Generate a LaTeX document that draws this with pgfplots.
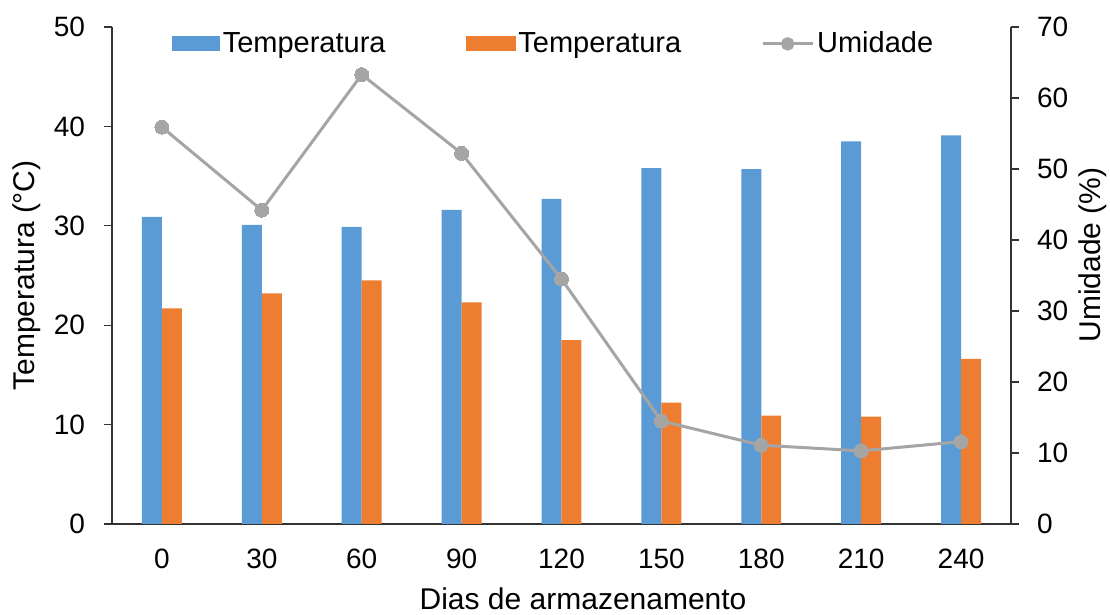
\documentclass[border=0pt]{standalone}
\usepackage{fontspec}
\setmainfont{Liberation Sans}
\usepackage{pgfplots}
\pgfplotsset{compat=1.18}
\definecolor{cblue}{HTML}{5B9BD5}
\definecolor{corange}{HTML}{ED7D31}
\definecolor{cgray}{HTML}{A5A5A5}
\begin{document}
\begin{tikzpicture}[font=\fontsize{14}{16.8}\selectfont]
\pgfplotsset{
  base/.style={
    width=449.5pt, height=248.5pt, scale only axis,
    at={(56pt,45.5pt)}, anchor=south west,
    xmin=-0.5, xmax=8.5,
    tick align=outside, major tick length=4pt,
    axis line style={-, black!80, line width=0.6pt},
    tick style={black!80, line width=0.6pt},
    /pgf/number format/assume math mode=true,
    label style={font=\fontsize{15}{18}\selectfont},
  }
}
\begin{axis}[base,
  ymin=0, ymax=50, ytick={0,10,...,50},
  axis y line*=left, axis x line*=bottom,
  xtick={0,...,8}, xticklabels={0,30,60,90,120,150,180,210,240},
  major x tick style={draw=none},
  xticklabel style={anchor=base, yshift=-18.5pt},
  yticklabel style={anchor=east, xshift=-6pt},
  xlabel={Dias de armazenamento},
  xlabel style={at={(axis description cs:0.524,0)}, anchor=base, yshift=-43pt},
  ylabel={Temperatura (°C)},
  ylabel style={at={(axis description cs:0,0.5)}, anchor=center, yshift=42.5pt},
]
\addplot[ybar, bar width=0.2, bar shift=-0.1, fill=cblue, draw=none]
  coordinates {(0,30.9) (1,30.1) (2,29.9) (3,31.6) (4,32.7) (5,35.8) (6,35.7) (7,38.5) (8,39.1)};
\addplot[ybar, bar width=0.2, bar shift=0.1, fill=corange, draw=none]
  coordinates {(0,21.7) (1,23.2) (2,24.5) (3,22.3) (4,18.5) (5,12.2) (6,10.9) (7,10.8) (8,16.6)};
\end{axis}
\begin{axis}[base,
  ymin=0, ymax=70, ytick={0,10,...,70},
  axis y line*=right, axis x line=none, xtick=\empty,
  yticklabel style={anchor=west, xshift=5.5pt},
  ylabel={Umidade (\%)},
  ylabel style={at={(axis description cs:1,0.541)}, anchor=center, yshift=-41pt},
  legend columns=3,
  legend style={at={(0.0667,0.966)}, anchor=west, draw=none, fill=none,
    inner sep=0pt, outer sep=0pt, font=\fontsize{14.5}{17}\selectfont,
    nodes={inner xsep=1.5pt, inner ysep=1pt},
    /tikz/every even column/.append style={column sep=38.5pt}},
]
\addlegendimage{legend image code/.code={\fill[cblue] (0pt,-3.5pt) rectangle (23.5pt,3.5pt);}}
\addlegendentry{Temperatura}
\addlegendimage{legend image code/.code={\fill[corange] (0pt,-3.5pt) rectangle (24.5pt,3.5pt);}}
\addlegendentry{Temperatura}
\addplot[cgray, line width=1.5pt, mark=*, mark size=3.5pt,
  mark options={fill=cgray, draw=cgray, line width=0pt},
  legend image code/.code={\draw[cgray, line width=1.5pt] (0pt,0pt) -- (25pt,0pt); \fill[cgray] (12.5pt,0pt) circle (2.6pt);}]
  coordinates {(0,55.9) (1,44.2) (2,63.3) (3,52.2) (4,34.5) (5,14.5) (6,11.1) (7,10.3) (8,11.6)};
\addlegendentry{Umidade}
\end{axis}
\pgfresetboundingbox
\path[use as bounding box] (0,0) rectangle (555pt,307.5pt);
\end{tikzpicture}
\end{document}
